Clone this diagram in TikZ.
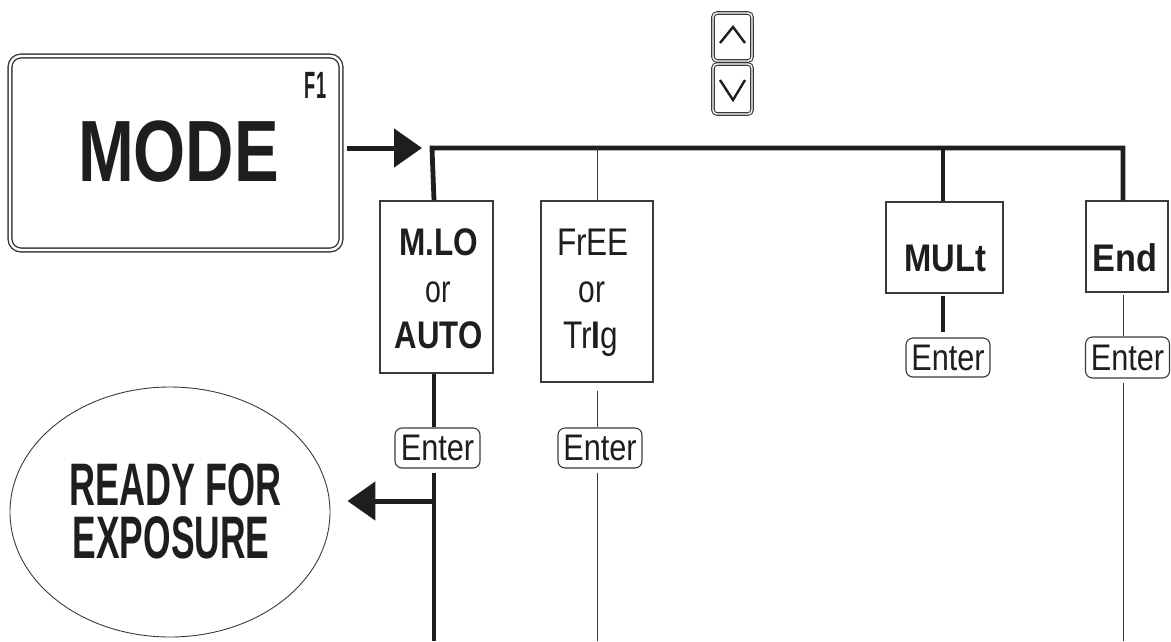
\documentclass[tikz,border=0pt]{standalone}
\usepackage{fontspec}
\usepackage{graphicx}
\setmainfont{Liberation Sans}
\usetikzlibrary{shapes.geometric,arrows.meta}
\newcommand\sq[2]{\scalebox{#1}[1]{#2}}
\definecolor{ink}{HTML}{1E1E1E}
\definecolor{edge}{HTML}{3A3A3A}
\tikzset{
  thickline/.style={draw=ink,line width=4.8pt},
  thinline/.style={draw=edge,line width=1pt},
  bigarrow/.style={draw=ink,line width=5pt,-{Triangle[length=28pt,width=38pt]}},
  optbox/.style={draw=edge,line width=1.2pt,fill=white,rectangle,inner sep=0pt},
  enterkey/.style={draw=edge,line width=1.1pt,rounded corners=7pt,rectangle,inner sep=0pt,
     minimum height=40pt,text=ink,font=\fontsize{37}{38}\selectfont},
  arrowkey/.style={draw=edge,line width=1.1pt,double=white,double distance=1.4pt,
     rounded corners=4pt,rectangle,inner sep=0pt,minimum width=39pt},
  caret/.style={draw=ink,line width=2.4pt},
  boxtext/.style={inner sep=0pt,anchor=base,text=ink,font=\fontsize{38.5}{40}\selectfont},
  bigtext/.style={inner sep=0pt,anchor=base,text=ink,text height=42pt,text depth=0pt,
     font=\fontsize{60}{60}\selectfont\bfseries},
}
\begin{document}
\begin{tikzpicture}[x=1pt,y=-1pt]
\useasboundingbox (0,0) rectangle (1171,641);
% MODE key
\node[draw=edge,line width=1.4pt,double=white,double distance=2.4pt,rounded corners=11pt,
      rectangle,inner sep=0pt,minimum width=331pt,minimum height=194pt] (mode) at (175.5,153) {};
\node[inner sep=0pt,text=ink,font=\fontsize{87}{90}\selectfont\bfseries] (modetxt) at (178.5,152) {\sq{0.77}{MODE}};
\node[inner sep=0pt,text=ink,font=\fontsize{38}{40}\selectfont\bfseries] (f1) at (315.5,85.5) {\sq{0.48}{F1}};
% arrow keys
\node[arrowkey,minimum height=48pt] (up) at (732.5,37) {};
\node[arrowkey,minimum height=50pt] (down) at (732.5,89) {};
\draw[caret] ([shift={(-12.5,6)}]up.center) -- ([shift={(0.5,-10)}]up.center) -- ([shift={(12.5,6)}]up.center);
\draw[caret] ([shift={(-12.5,-9)}]down.center) -- ([shift={(0.5,11)}]down.center) -- ([shift={(12.5,-9)}]down.center);
% option boxes
\node[optbox,minimum width=113pt,minimum height=172pt] (mlo) at (436.5,287) {};
\node[optbox,minimum width=112pt,minimum height=181pt] (free) at (597,291.5) {};
\node[optbox,minimum width=117pt,minimum height=91pt] (mult) at (944.5,247.5) {};
\node[optbox,minimum width=82pt,minimum height=91pt] (endb) at (1127,246.5) {};
% texts in boxes
\node[boxtext,font=\fontsize{38.5}{40}\selectfont\bfseries] (mloA) at (438.5,255) {\sq{0.82}{M.LO}};
\node[boxtext] (mloB) at (438,302) {\sq{0.74}{or}};
\node[boxtext,font=\fontsize{38.5}{40}\selectfont\bfseries] (mloC) at (438.5,348) {\sq{0.81}{AUTO}};
\node[boxtext] (freeA) at (593,255) {\sq{0.82}{FrEE}};
\node[boxtext] (freeB) at (592,302) {\sq{0.78}{or}};
\node[boxtext] (freeC) at (590.5,348) {\sq{0.82}{Tr\textbf{I}g}};
\node[boxtext,font=\fontsize{38.5}{40}\selectfont\bfseries] (multA) at (945.5,271) {\sq{0.85}{MULt}};
\node[boxtext,font=\fontsize{38.5}{40}\selectfont\bfseries] (endA) at (1125,271) {\sq{0.89}{End}};
% enter keys
\node[enterkey,minimum width=85pt] (e1) at (437.5,448) {\sq{0.83}{Enter}};
\node[enterkey,minimum width=84pt] (e2) at (600,448) {\sq{0.83}{Enter}};
\node[enterkey,minimum width=84pt,minimum height=39pt] (e3) at (948,357.5) {\sq{0.83}{Enter}};
\node[enterkey,minimum width=84pt,minimum height=41pt] (e4) at (1127.5,357.5) {\sq{0.83}{Enter}};
% ready ellipse
\node[ellipse,draw=edge,line width=0.9pt,minimum width=320pt,minimum height=250pt,inner sep=0pt] (ready) at (170,512) {};
\node[bigtext] (readyA) at (176,505) {\sq{0.6}{READY FOR}};
\node[bigtext] (readyB) at (171,558) {\sq{0.59}{EXPOSURE}};
% coordinates
\coordinate (busL) at (434,148);
\coordinate (busR) at (1123,148);
\coordinate (bot) at (0,641);
\coordinate (branch) at (434,501);
% connectors
\draw[bigarrow] ([xshift=5pt]mode.east |- busL) -- ([xshift=-12pt]busL);
\draw[thickline] (mlo.north -| busL) -- ([xshift=-2pt]busL) -- (busR) -- (endb.north -| busR);
\draw[thinline] (free.north) -- (free.north |- busL);
\draw[thickline] (mult.north -| 943,0) -- (busL -| 943,0);
\draw[thickline] (mlo.south -| busL) -- (e1.north -| busL);
\draw[thickline] ([yshift=-4pt]e1.south -| busL) -- (bot -| busL);
\draw[bigarrow] (branch) -- ([xshift=17pt]ready.east |- branch);
\draw[thinline] ([yshift=-8pt]free.south) -- (e2.north -| free.south);
\draw[thinline] ([yshift=-4pt]e2.south -| free.south) -- (bot -| free.south);
\draw[thickline] ([yshift=-2pt]mult.south -| 943,0) -- ([yshift=5pt]e3.north -| 943,0);
\draw[thinline] ([yshift=-2pt]endb.south -| busR) -- (e4.north -| busR);
\draw[thinline] ([yshift=-4pt]e4.south -| busR) -- (bot -| busR);
\end{tikzpicture}
\end{document}
